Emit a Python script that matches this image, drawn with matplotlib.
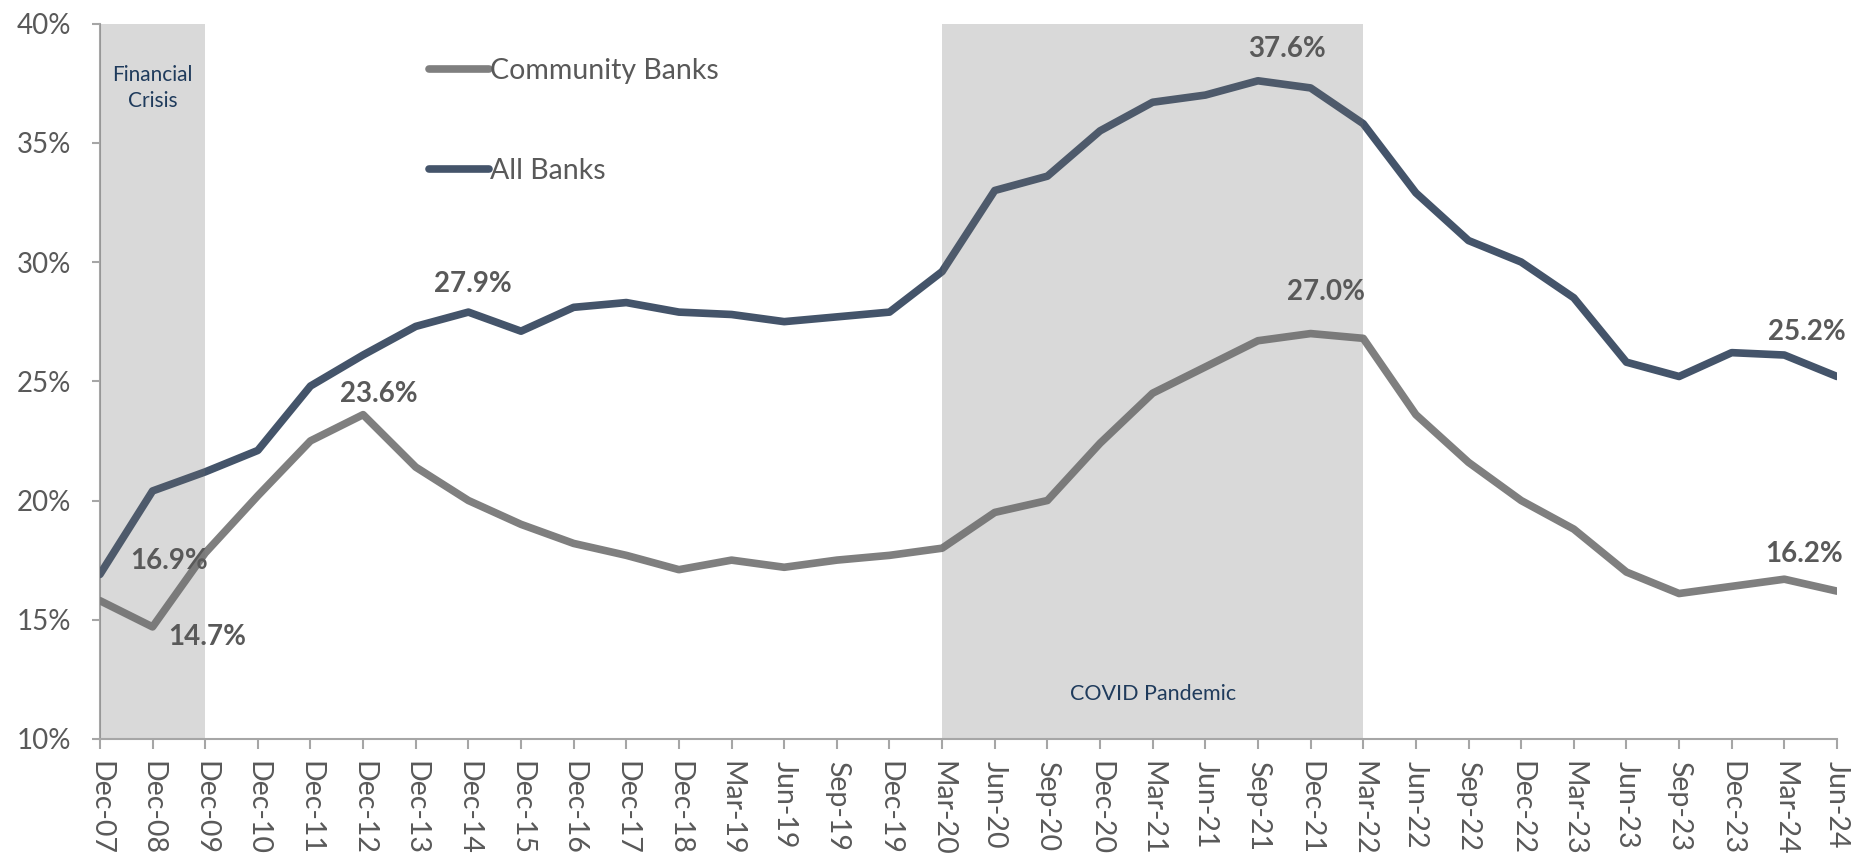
from matplotlib import pyplot as plt

# Quarter labels along the x axis
periods = ['Dec-07', 'Dec-08', 'Dec-09', 'Dec-10', 'Dec-11', 'Dec-12', 'Dec-13',
           'Dec-14', 'Dec-15', 'Dec-16', 'Dec-17', 'Dec-18', 'Mar-19', 'Jun-19',
           'Sep-19', 'Dec-19', 'Mar-20', 'Jun-20', 'Sep-20', 'Dec-20', 'Mar-21',
           'Jun-21', 'Sep-21', 'Dec-21', 'Mar-22', 'Jun-22', 'Sep-22', 'Dec-22',
           'Mar-23', 'Jun-23', 'Sep-23', 'Dec-23', 'Mar-24', 'Jun-24']

community_banks = [15.8, 14.7, 17.8, 20.2, 22.5, 23.6, 21.4, 20.0, 19.0, 18.2,
                   17.7, 17.1, 17.5, 17.2, 17.5, 17.7, 18.0, 19.5, 20.0, 22.4,
                   24.5, 25.6, 26.7, 27.0, 26.8, 23.6, 21.6, 20.0, 18.8, 17.0,
                   16.1, 16.4, 16.7, 16.2]

all_banks = [16.9, 20.4, 21.2, 22.1, 24.8, 26.1, 27.3, 27.9, 27.1, 28.1,
             28.3, 27.9, 27.8, 27.5, 27.7, 27.9, 29.6, 33.0, 33.6, 35.5,
             36.7, 37.0, 37.6, 37.3, 35.8, 32.9, 30.9, 30.0, 28.5, 25.8,
             25.2, 26.2, 26.1, 25.2]

# Shaded periods: (label, start, end)
crisis_span = ('Financial\nCrisis', 'Dec-07', 'Dec-09')
covid_span = ('COVID Pandemic', 'Mar-20', 'Mar-22')

# Values called out on the chart: (series, period, text offset in points)
callouts = [('all', 'Dec-07', (50, 10)),
            ('community', 'Dec-08', (39, -7)),
            ('community', 'Dec-12', (11, 15)),
            ('all', 'Dec-14', (3, 20)),
            ('all', 'Sep-21', (21, 23)),
            ('community', 'Dec-21', (11, 30)),
            ('all', 'Jun-24', (-22, 32)),
            ('community', 'Jun-24', (-24, 27))]

plt.rcParams['font.family'] = ['Lato', 'DejaVu Sans']

fig = plt.figure(figsize=(18.64, 8.56), dpi=100)
ax = fig.add_axes([0.0536, 0.1367, 0.9319, 0.8358])

x = list(range(len(periods)))
ax.plot(x, community_banks, color='#7f7f7f', linewidth=5.5,
        solid_capstyle='round', label='Community Banks', zorder=3)
ax.plot(x, all_banks, color='#44546a', linewidth=5.5,
        solid_capstyle='round', label='All Banks', zorder=3)

# Translucent shading laid over the lines
for name, start, end in (crisis_span, covid_span):
    ax.axvspan(periods.index(start), periods.index(end),
               ymin=0.002, color='#6e6e6e', alpha=0.26, linewidth=0, zorder=4)

i0, i1 = periods.index(crisis_span[1]), periods.index(crisis_span[2])
ax.text((i0 + i1) / 2, 37.3, crisis_span[0], ha='center', va='center',
        fontsize=15, color='#1f3b5c', linespacing=1.4, zorder=5)
i0, i1 = periods.index(covid_span[1]), periods.index(covid_span[2])
ax.text((i0 + i1) / 2, 11.9, covid_span[0], ha='center', va='center',
        fontsize=15.5, color='#1f3b5c', zorder=5)

# Value callouts
series = {'all': all_banks, 'community': community_banks}
for key, period, offset in callouts:
    i = periods.index(period)
    val = series[key][i]
    ax.annotate('{:.1f}%'.format(val), xy=(i, val), xytext=offset,
                textcoords='offset points', ha='center', va='center',
                fontsize=20, fontweight='bold', color='#595959', zorder=6)

ax.set_xlim(0, len(periods) - 1)
ax.set_ylim(10, 40)
ax.set_yticks([10, 15, 20, 25, 30, 35, 40])
ax.set_yticklabels(['{}%'.format(v) for v in range(10, 41, 5)])
ax.set_xticks(x)
ax.set_xticklabels(periods, rotation=-90)

# Axis styling
for s in ['top', 'right']:
    ax.spines[s].set_visible(False)
for s in ['left', 'bottom']:
    ax.spines[s].set_color('#a6a6a6')
    ax.spines[s].set_linewidth(1.5)
ax.tick_params(axis='y', direction='out', length=6, width=1.5,
               color='#a6a6a6', labelsize=20, labelcolor='#595959', pad=15)
ax.tick_params(axis='x', direction='out', length=7, width=1.5,
               color='#a6a6a6', labelsize=20.5, labelcolor='#595959', pad=9)

leg = ax.legend(loc='upper left', bbox_to_anchor=(0.1895, 0.952), frameon=False,
                fontsize=20.5, labelspacing=2.6, handlelength=2.1,
                handletextpad=0.05, borderpad=0, borderaxespad=0)
for t in leg.get_texts():
    t.set_color('#595959')

plt.savefig('out.png', dpi=100)
